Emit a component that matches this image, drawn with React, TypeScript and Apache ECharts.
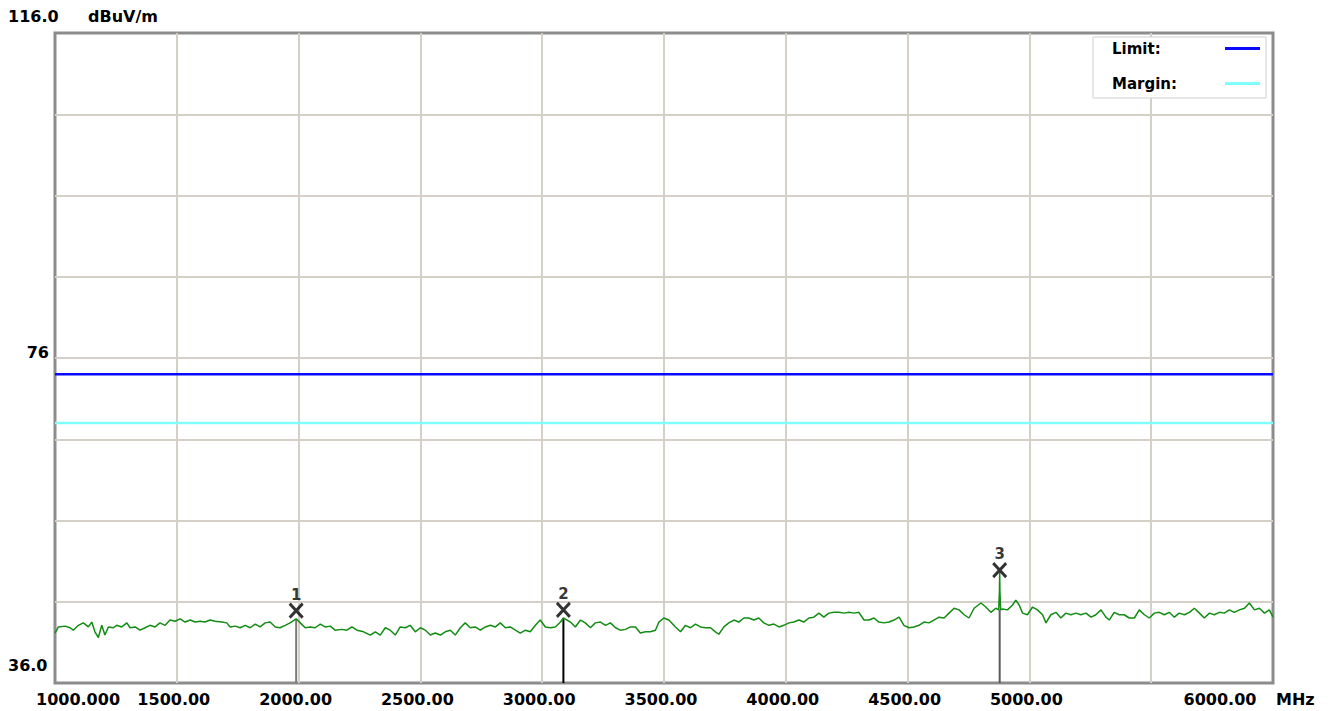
import React, { useEffect, useRef } from "react";
import * as echarts from "echarts";

// Frequency axis (MHz)
const xTickValues = [1000, 1500, 2000, 2500, 3000, 3500, 4000, 4500, 5000, 5500, 6000];
const xTickTexts = ["1000.000", "1500.00", "2000.00", "2500.00", "3000.00", "3500.00", "4000.00", "4500.00", "5000.00", "", "6000.00"];
// Level axis (dBuV/m)
const yLabelValues = [116, 76, 36];
const yLabelTexts = ["116.0", "76", "36.0"];

const limitLevel = 74;
const marginLevel = 68;

const traceFreq = [
  1000, 1014, 1041, 1062, 1075, 1096, 1116, 1137, 1151, 1164, 1178, 1192, 1205, 1219, 1240, 1253, 1274, 1295, 1308, 1329,
  1349, 1370, 1390, 1411, 1431, 1452, 1472, 1493, 1514, 1534, 1555, 1575, 1596, 1616, 1637, 1657, 1685, 1705, 1719, 1740,
  1760, 1781, 1801, 1822, 1842, 1863, 1883, 1904, 1924, 1945, 1965, 1990, 2007, 2027, 2048, 2068, 2089, 2109, 2130, 2150,
  2178, 2198, 2219, 2240, 2267, 2294, 2315, 2335, 2356, 2376, 2397, 2417, 2438, 2458, 2479, 2500, 2520, 2541, 2561, 2582,
  2602, 2623, 2643, 2664, 2684, 2705, 2725, 2746, 2767, 2787, 2808, 2828, 2849, 2869, 2890, 2910, 2931, 2951, 2972, 2992,
  3013, 3034, 3054, 3075, 3087, 3116, 3136, 3157, 3177, 3198, 3218, 3239, 3260, 3280, 3301, 3321, 3342, 3362, 3383, 3403,
  3424, 3444, 3465, 3479, 3499, 3520, 3547, 3568, 3588, 3609, 3629, 3650, 3670, 3691, 3711, 3725, 3746, 3766, 3787, 3807,
  3828, 3848, 3869, 3889, 3910, 3931, 3951, 3972, 3992, 4013, 4033, 4054, 4074, 4095, 4115, 4136, 4156, 4177, 4198, 4218,
  4239, 4259, 4280, 4300, 4321, 4341, 4362, 4382, 4403, 4424, 4444, 4465, 4485, 4506, 4526, 4547, 4567, 4588, 4608, 4629,
  4650, 4670, 4691, 4711, 4732, 4752, 4773, 4801, 4821, 4842, 4862, 4874, 4877, 4878, 4879, 4882, 4890, 4910, 4931, 4944,
  4958, 4972, 4992, 5013, 5033, 5054, 5068, 5088, 5109, 5129, 5150, 5170, 5191, 5211, 5232, 5253, 5273, 5294, 5314, 5328,
  5348, 5369, 5389, 5410, 5431, 5451, 5472, 5492, 5513, 5533, 5554, 5574, 5595, 5615, 5636, 5657, 5677, 5698, 5718, 5739,
  5759, 5780, 5800, 5821, 5841, 5862, 5883, 5903, 5924, 5944, 5965, 5985, 6000,
];
const traceLevel = [
  42.15, 42.9, 43.0, 42.8, 42.5, 43.1, 43.4, 42.9, 43.5, 42.3, 41.6, 43.1, 41.9, 42.9, 42.8, 43.1, 42.9, 43.4, 42.8, 42.9,
  42.5, 42.8, 43.1, 42.9, 43.4, 43.1, 43.75, 43.6, 43.9, 43.5, 43.75, 43.5, 43.6, 43.5, 43.75, 43.6, 43.5, 43.4, 42.9, 43.0,
  42.8, 43.1, 42.8, 43.25, 42.9, 43.4, 43.5, 42.9, 42.8, 43.1, 43.4, 43.9, 43.4, 42.8, 42.9, 42.8, 43.25, 42.9, 43.0, 42.5,
  42.6, 42.5, 42.9, 42.5, 42.3, 41.9, 42.3, 41.9, 42.8, 42.5, 41.9, 42.9, 42.8, 43.1, 42.3, 42.8, 42.5, 41.9, 42.15, 41.9,
  42.3, 42.5, 41.9, 42.8, 43.4, 42.8, 42.9, 42.5, 42.9, 43.1, 42.9, 43.4, 42.8, 42.9, 42.5, 42.15, 42.5, 42.3, 43.1, 43.75,
  42.9, 42.8, 42.9, 43.5, 44.0, 43.5, 42.9, 43.75, 43.4, 42.8, 43.4, 43.5, 43.1, 43.4, 42.8, 42.5, 42.6, 42.9, 42.9, 42.15,
  42.3, 42.3, 42.5, 43.5, 44.0, 43.75, 42.9, 42.3, 43.1, 42.8, 43.25, 42.9, 42.8, 42.8, 42.3, 42.0, 42.9, 43.4, 43.75, 43.5,
  44.0, 44.0, 43.75, 44.0, 43.4, 43.1, 43.25, 42.9, 43.1, 43.4, 43.5, 43.75, 43.5, 44.0, 44.1, 44.6, 44.1, 44.6, 44.7, 44.7,
  44.6, 44.7, 44.6, 44.7, 43.75, 43.75, 44.0, 43.5, 43.4, 43.5, 43.75, 44.1, 43.1, 42.8, 42.9, 43.1, 43.5, 43.4, 43.75, 44.1,
  44.0, 44.6, 45.2, 45.0, 44.4, 44.0, 45.2, 45.85, 45.35, 44.7, 45.2, 45.0, 47.3, 49.6, 47.3, 45.0, 45.1, 45.0, 45.6, 46.2,
  45.6, 44.6, 44.4, 45.35, 45.0, 44.4, 43.4, 44.4, 44.7, 44.0, 44.6, 44.4, 44.6, 44.4, 44.6, 44.1, 44.4, 45.0, 44.1, 43.75,
  44.7, 44.4, 44.4, 44.0, 44.0, 45.0, 44.4, 44.0, 44.6, 44.7, 44.4, 44.7, 44.1, 44.6, 44.4, 44.7, 45.2, 44.6, 44.0, 44.6,
  44.4, 44.7, 44.6, 45.0, 44.7, 45.0, 45.2, 45.85, 45.0, 45.2, 44.6, 45.0, 44.1,
];

const markerFreq = [1990, 3087, 4878];
const markerLevel = [44.9, 45.0, 49.9];
const markerTraceLevel = [43.9, 44.0, 45.0];
const markerLabels = ["1", "2", "3"];

const FONT = "DejaVu Sans";

export default function App() {
  const ref = useRef<HTMLDivElement>(null);

  useEffect(() => {
    if (!ref.current) return;
    const chart = echarts.init(ref.current, null, { renderer: "svg" });

    const markerLineColors = ["#7a7a7a", "#000000", "#5a5a5a"];
    const markerLineSeries = markerFreq.map((f, i) => ({
      type: "line",
      name: "marker" + markerLabels[i],
      data: [
        [f, 36],
        [f, markerTraceLevel[i]],
      ],
      symbol: "none",
      silent: true,
      z: 3,
      lineStyle: { color: markerLineColors[i], width: 2 },
    }));

    const bold16 = { fontFamily: FONT, fontWeight: "bold", fontSize: 16, color: "#000" };

    const option: any = {
      animation: false,
      backgroundColor: "#ffffff",
      textStyle: { fontFamily: FONT },
      grid: {
        left: 55,
        right: 59,
        top: 33,
        bottom: 28,
        show: true,
        backgroundColor: "#ffffff",
        borderColor: "#8c8c8c",
        borderWidth: 3,
      },
      legend: {
        data: ["Limit:", "Margin:"],
        orient: "vertical",
        right: 66,
        top: 37,
        align: "right",
        icon: "rect",
        itemWidth: 35,
        itemHeight: 3,
        itemGap: 20,
        padding: [4, 6, 7, 19],
        backgroundColor: "#ffffff",
        borderColor: "#cfcfcf",
        borderWidth: 1,
        formatter: (name: string) => `{a|${name}}`,
        textStyle: {
          rich: {
            a: { width: 108, align: "left", fontSize: 15, fontWeight: "bold", fontFamily: FONT, color: "#000", lineHeight: 18 },
          },
        },
      },
      xAxis: {
        type: "value",
        min: 1000,
        max: 6000,
        interval: 500,
        axisLine: { show: false },
        axisTick: { show: false },
        splitLine: { show: true, showMinLine: false, showMaxLine: false, lineStyle: { color: "#d4d0c8", width: 2 } },
        name: "{u|MHz}",
        nameLocation: "end",
        nameGap: 3,
        nameTextStyle: {
          ...bold16,
          align: "left",
          verticalAlign: "middle",
          rich: { u: { ...bold16, padding: [32, 0, 0, 0] } },
        },
        axisLabel: {
          show: true,
          showMinLabel: true,
          showMaxLabel: true,
          margin: 8,
          ...bold16,
          formatter: (v: number) => {
            const i = xTickValues.indexOf(v);
            const t = i >= 0 ? xTickTexts[i] : "";
            if (!t) return "";
            if (v === 1000) return `{first|${t}}`;
            if (v === 6000) return `{last|${t}}`;
            return `{mid|${t}}`;
          },
          rich: {
            first: { ...bold16, padding: [0, 0, 0, 46] },
            last: { ...bold16, padding: [0, 106, 0, 0] },
            mid: { ...bold16, padding: [0, 6, 0, 0] },
          },
        },
      },
      yAxis: {
        type: "value",
        min: 36,
        max: 116,
        interval: 10,
        axisLine: { show: false },
        axisTick: { show: false },
        splitLine: { show: true, showMinLine: false, showMaxLine: false, lineStyle: { color: "#d4d0c8", width: 2 } },
        name: "dBuV/m",
        nameLocation: "end",
        nameGap: 17,
        nameTextStyle: {
          ...bold16,
          align: "left",
          verticalAlign: "middle",
          padding: [0, 0, 0, 33],
        },
        axisLabel: {
          show: true,
          showMinLabel: true,
          showMaxLabel: true,
          align: "left",
          verticalAlign: "middle",
          margin: 47,
          ...bold16,
          formatter: (v: number) => {
            const i = yLabelValues.indexOf(v);
            if (i < 0) return "";
            const key = i === 0 ? "t" : i === 1 ? "m" : "b";
            return `{${key}|${yLabelTexts[i]}}`;
          },
          rich: {
            t: { ...bold16, padding: [0, 0, 34, 0] },
            m: { ...bold16, padding: [0, 0, 12, 0], width: 41, align: "right" },
            b: { ...bold16, padding: [0, 0, 36, 0] },
          },
        },
      },
      series: [
        ...markerLineSeries,
        {
          type: "line",
          name: "Trace",
          data: traceFreq.map((f, i) => [f, traceLevel[i]]),
          symbol: "none",
          z: 4,
          lineStyle: { color: "#128c12", width: 1.5 },
        },
        {
          type: "line",
          name: "Limit:",
          data: [
            [1000, limitLevel],
            [6000, limitLevel],
          ],
          symbol: "none",
          z: 5,
          itemStyle: { color: "#0a0aff" },
          lineStyle: { color: "#0a0aff", width: 2.5 },
        },
        {
          type: "line",
          name: "Margin:",
          data: [
            [1000, marginLevel],
            [6000, marginLevel],
          ],
          symbol: "none",
          z: 5,
          itemStyle: { color: "#80ffff" },
          lineStyle: { color: "#80ffff", width: 2.5 },
        },
        {
          type: "scatter",
          name: "Markers",
          data: markerFreq.map((f, i) => [f, markerLevel[i]]),
          symbol: "path://M0,0L10,12M10,0L0,12",
          symbolSize: [13, 14],
          z: 6,
          itemStyle: { color: "rgba(0,0,0,0)", borderColor: "#000", borderWidth: 3 },
          label: {
            show: true,
            position: "top",
            distance: 0,
            formatter: (p: any) => markerLabels[p.dataIndex],
            color: "#000",
            fontFamily: FONT,
            fontWeight: "bold",
            fontSize: 15,
          },
        },
      ],
    };

    chart.setOption(option);
    return () => chart.dispose();
  }, []);

  return (
    <div
      ref={ref}
      style={{ position: "fixed", left: 0, top: 0, width: 1332, height: 711, background: "#fff" }}
    />
  );
}
